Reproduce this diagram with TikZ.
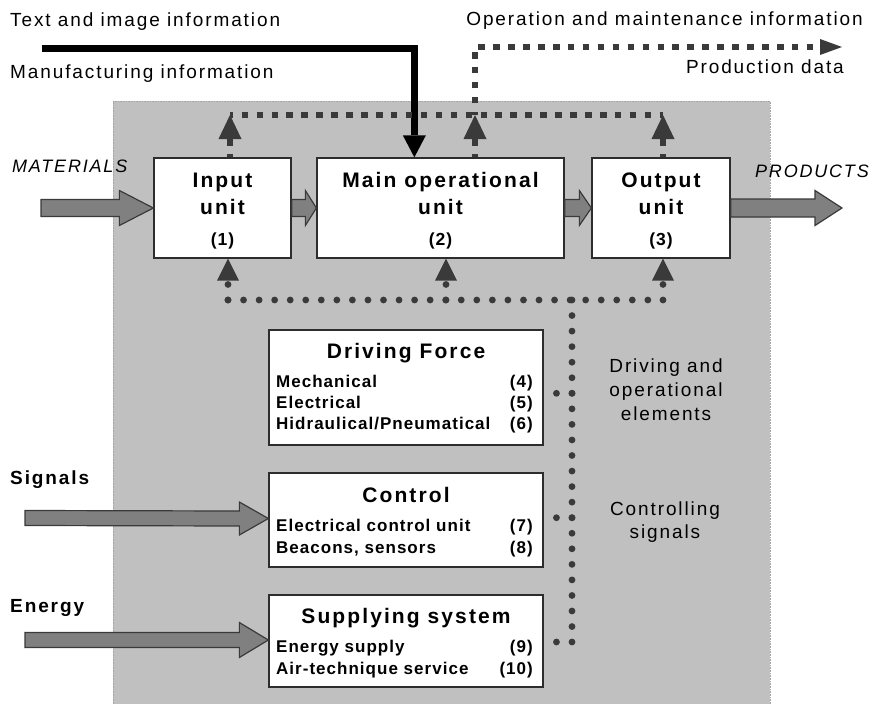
\documentclass[tikz,border=0pt]{standalone}
\usepackage{fontspec}
\setmainfont{Liberation Sans}[LetterSpace=10]
\newfontfamily\itemfont{Liberation Sans}[LetterSpace=6]
\usetikzlibrary{arrows.meta,calc}

\definecolor{bggray}{RGB}{192,192,192}
\definecolor{dotgray}{RGB}{58,58,58}
\definecolor{arrowfill}{RGB}{128,128,128}
\definecolor{edge}{RGB}{45,45,45}

% block arrow: start, tip, shaft half height, head half height, head length
\newcommand\bigarrowshape[5]{%
  \draw[bigarrow] ($(#1)+(0,#3)$) -- ($(#2)+(-#5,#3)$) -- ($(#2)+(-#5,#4)$) -- (#2)
    -- ($(#2)+(-#5,-#4)$) -- ($(#2)+(-#5,-#3)$) -- ($(#1)+(0,-#3)$) -- cycle;}

\tikzset{
  unitbox/.style={draw=edge, line width=1.3, fill=white, inner sep=0pt},
  sq/.style={draw=dotgray, line width=6.5, dash pattern=on 6.5pt off 8.43pt, dash phase=3.25pt},
  rd/.style={draw=dotgray, line width=6.8, line cap=round, dash pattern=on 0pt off 15.55pt},
  uph/.style={-{Triangle[length=24pt,width=23pt,line width=0pt]}},
  loh/.style={-{Triangle[length=22pt,width=22pt,line width=0pt]}},
  bigarrow/.style={fill=arrowfill, draw=dotgray, line width=1.2, line join=miter},
  lbl/.style={inner sep=0pt, font=\fontsize{19}{23}\selectfont},
  side/.style={lbl, font=\fontsize{19}{23}\bfseries},
  flow/.style={inner sep=0pt, font=\fontsize{18}{22}\itshape},
  ttl/.style={inner sep=0pt, anchor=base, font=\fontsize{21}{25}\bfseries},
  num/.style={inner sep=0pt, anchor=base, font=\itemfont\fontsize{17.5}{20}\bfseries},
  item/.style={inner sep=0pt, font=\itemfont\fontsize{17}{20}\bfseries},
}

\begin{document}
\begin{tikzpicture}[x=1pt,y=-1pt]
\useasboundingbox (0,0) rectangle (873,704);
\fill[white] (0,0) rectangle (873,704);
\fill[bggray] (113,101) rectangle (770,704);
\draw[gray!70, line width=0.6, densely dotted] (113,704) -- (113,101) -- (770,101) -- (770,704);

% top row of units
\node[unitbox, minimum width=137, minimum height=100] (in)   at (222.5,208) {};
\node[unitbox, minimum width=247, minimum height=100] (main) at (440.5,208) {};
\node[unitbox, minimum width=138, minimum height=100] (out)  at (661,208) {};

\node[ttl] (inA) at (222.5,187) {Input};
\node[ttl] (inB) at (222.5,214) {unit};
\node[num] (inC) at (222.5,245) {(1)};
\node[ttl] (mainA) at (440.5,187) {Main operational};
\node[ttl] (mainB) at (440.5,214) {unit};
\node[num] (mainC) at (440.5,245) {(2)};
\node[ttl] (outA) at (661,187) {Output};
\node[ttl] (outB) at (661,214) {unit};
\node[num] (outC) at (661,245) {(3)};

% lower blocks
\node[unitbox, minimum width=274, minimum height=115] (drv) at (406,387.5) {};
\node[unitbox, minimum width=274, minimum height=94]  (ctl) at (406,520) {};
\node[unitbox, minimum width=274, minimum height=92]  (sup) at (406,641) {};

\node[ttl] (drvT) at (406,358) {Driving Force};
\node[item, anchor=base west] (drv1) at (276,387) {Mechanical};
\node[item, anchor=base west] (drv2) at (276,408) {Electrical};
\node[item, anchor=base west] (drv3) at (276,429) {Hidraulical/Pneumatical};
\node[item, anchor=base east] (drv4) at (533,387) {(4)};
\node[item, anchor=base east] (drv5) at (533,408) {(5)};
\node[item, anchor=base east] (drv6) at (533,429) {(6)};

\node[ttl] (ctlT) at (406,502) {Control};
\node[item, anchor=base west] (ctl1) at (276,531) {Electrical control unit};
\node[item, anchor=base west] (ctl2) at (276,553) {Beacons, sensors};
\node[item, anchor=base east] (ctl7) at (533,531) {(7)};
\node[item, anchor=base east] (ctl8) at (533,553) {(8)};

\node[ttl] (supT) at (406,623) {Supplying system};
\node[item, anchor=base west] (sup1) at (276,652) {Energy supply};
\node[item, anchor=base west] (sup2) at (276,674) {Air-technique service};
\node[item, anchor=base east] (sup9) at (533,652) {(9)};
\node[item, anchor=base east] (sup10) at (533,674) {(10)};

% outer labels
\node[lbl, anchor=base west] (tii) at (10,26) {Text and image information};
\node[lbl, anchor=base west] (mfi) at (10,78) {Manufacturing information};
\node[lbl, anchor=base east] (omi) at (863,25) {Operation and maintenance information};
\node[lbl, anchor=base east] (pdd) at (844,73) {Production data};
\node[flow, anchor=base west] (mat) at (12,172) {MATERIALS};
\node[flow, anchor=base west] (prd) at (755,177) {PRODUCTS};
\node[side, anchor=base west] (sig) at (10,484) {Signals};
\node[side, anchor=base west] (eng) at (10,612) {Energy};
\node[lbl, anchor=base] (doe1) at (666,372) {Driving and};
\node[lbl, anchor=base] (doe2) at (666,396) {operational};
\node[lbl, anchor=base] (doe3) at (666,420) {elements};
\node[lbl, anchor=base] (cs1) at (665,515) {Controlling};
\node[lbl, anchor=base] (cs2) at (665,538) {signals};

% block arrows for material and energy flows
\coordinate (matS) at (41,208);
\coordinate (prdT) at (842,208);
\coordinate (sigS) at (25,518);
\coordinate (sigT) at ($(ctl.west)+(0,-1.5)$);
\coordinate (engS) at (25,640);
\coordinate (engT) at ($(sup.west)+(0,-1)$);
\bigarrowshape{matS}{in.west}{8.5}{17.5}{34}
\bigarrowshape{in.east}{main.west}{8.5}{17.5}{11}
\bigarrowshape{main.east}{out.west}{8.5}{17.5}{12}
\bigarrowshape{out.east}{prdT}{9}{17.5}{27}
\bigarrowshape{sigS}{sigT}{7.5}{16.5}{29}
\bigarrowshape{engS}{engT}{7.5}{17.5}{29}

% manufacturing information into the main unit
\coordinate (blkS) at (42,48);
\coordinate (blkT) at ($(main.north west)+(98,0)$);
\draw[line width=7, line join=miter, -{Triangle[length=22pt,width=23pt,line width=0pt]}]
  (blkS) -- (blkS -| blkT) -- (blkT);

% feedback of operation data
\coordinate (a1) at (230,115);
\coordinate (a2) at (475,115);
\coordinate (a3) at (663,115);
\coordinate (atop) at (475,47);
\coordinate (aend) at (842,47);
\draw[sq] (a1) -- (a3);
\draw[sq, uph] (in.north -| a1) -- (a1);
\draw[sq, uph] (main.north -| a2) -- (a2);
\draw[sq, uph] (out.north -| a3) -- (a3);
\draw[sq, -{Triangle[length=22pt,width=16pt,line width=0pt]}] (a2) -- (atop) -- (aend);

% driving and controlling elements
\coordinate (b1) at (228,300);
\coordinate (b2) at (446,300);
\coordinate (b3) at (663,300);
\coordinate (b4) at (572,300);
\coordinate (v1) at (572,393.3);
\coordinate (v2) at (572,517.7);
\coordinate (v3) at (572,642);
\draw[rd] (b1) -- (b3);
\draw[rd, loh] (b1) -- (b1 |- in.south);
\draw[rd, loh] (b2) -- (b2 |- main.south);
\draw[rd, loh] (b3) -- (b3 |- out.south);
\draw[rd] (b4) -- (v3);
\draw[rd] (v1) -- (drv.east |- v1);
\draw[rd] (v2) -- (ctl.east |- v2);
\draw[rd] (v3) -- (sup.east |- v3);
\end{tikzpicture}
\end{document}
